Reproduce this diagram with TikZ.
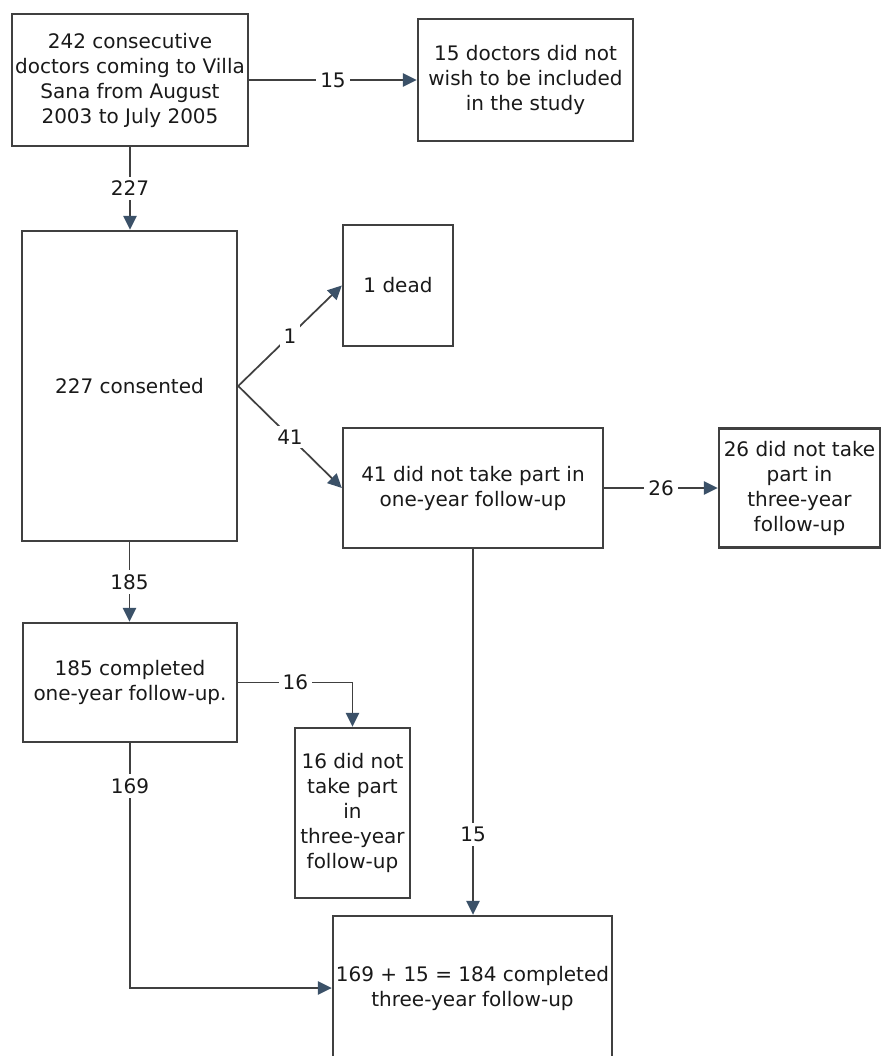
\documentclass[tikz,border=0pt]{standalone}
\usepackage{fontspec}
\setmainfont{DejaVu Sans}
\usetikzlibrary{arrows.meta}
\definecolor{linegray}{HTML}{404040}
\definecolor{tipblue}{HTML}{3B5168}
\tikzstyle{box} = [rectangle, draw=linegray, line width=1.8pt, align=center, text=black!90, inner sep=0pt, font=\fontsize{15}{18.75}\selectfont]
\tikzstyle{flow} = [draw=linegray, line width=1.3pt, -{Triangle[length=10.5pt,width=10pt,color=tipblue]}]
\tikzstyle{num} = [fill=white, inner sep=3pt, text=black!90, font=\fontsize{15}{18}\selectfont]

\begin{document}
\begin{tikzpicture}[x=0.75pt, y=-0.75pt]
\useasboundingbox (0,0) rectangle (881,1056);

 \node (doc) [box, minimum width=177pt, minimum height=99pt] at (130,80)
  {242 consecutive\\doctors coming to Villa\\Sana from August\\2003 to July 2005};
 \node (refuse) [box, minimum width=161.25pt, minimum height=91.5pt] at (525.5,80)
  {15 doctors did not\\wish to be included\\in the study};
 \node (consent) [box, minimum width=161.25pt, minimum height=232.5pt] at (129.5,386)
  {227 consented};
 \node (dead) [box, minimum width=82.5pt, minimum height=90.75pt] at (398,285.5)
  {1 dead};
 \node (lost1) [box, minimum width=195pt, minimum height=90pt] at (473,488)
  {41 did not take part in\\one-year follow-up};
 \node (lost3a) [box, minimum width=120.75pt, minimum height=89.25pt] at (799.5,488)
  {26 did not take\\part in\\three-year\\follow-up};
 \node (oneyear) [box, minimum width=160.5pt, minimum height=89.25pt] at (130,682.5)
  {185 completed\\one-year follow-up.};
 \node (lost3b) [box, minimum width=86.25pt, minimum height=127.5pt] at (352.5,813)
  {16 did not\\take part\\in\\three-year\\follow-up};
 \node (final) [box, minimum width=209.25pt, minimum height=108pt] at (472.5,988)
  {169 + 15 = 184 completed\\three-year follow-up};

 \draw[flow] (doc.east) -- node[num]{15} (doc.east -| refuse.west);
 \draw[flow] (doc.south) -- node[num]{227} (doc.south |- consent.north);
 \draw[flow] (consent.east) -- node[num]{1} (dead.west);
 \draw[flow] (consent.east) -- node[num]{41} (lost1.west);
 \draw[flow] (lost1.east) -- node[num]{26} (lost1.east -| lost3a.west);
 \draw[flow] (consent.south) -- node[num]{185} (consent.south |- oneyear.north);
 \draw[flow] (oneyear.east) -| node[num, pos=0.25]{16} (lost3b.north);
 \draw[flow] (lost1.south) -- node[num, pos=0.78]{15} (lost1.south |- final.north);
 \draw[flow] (oneyear.south) |- node[num, pos=0.0875]{169} (final.west);
\end{tikzpicture}
\end{document}
